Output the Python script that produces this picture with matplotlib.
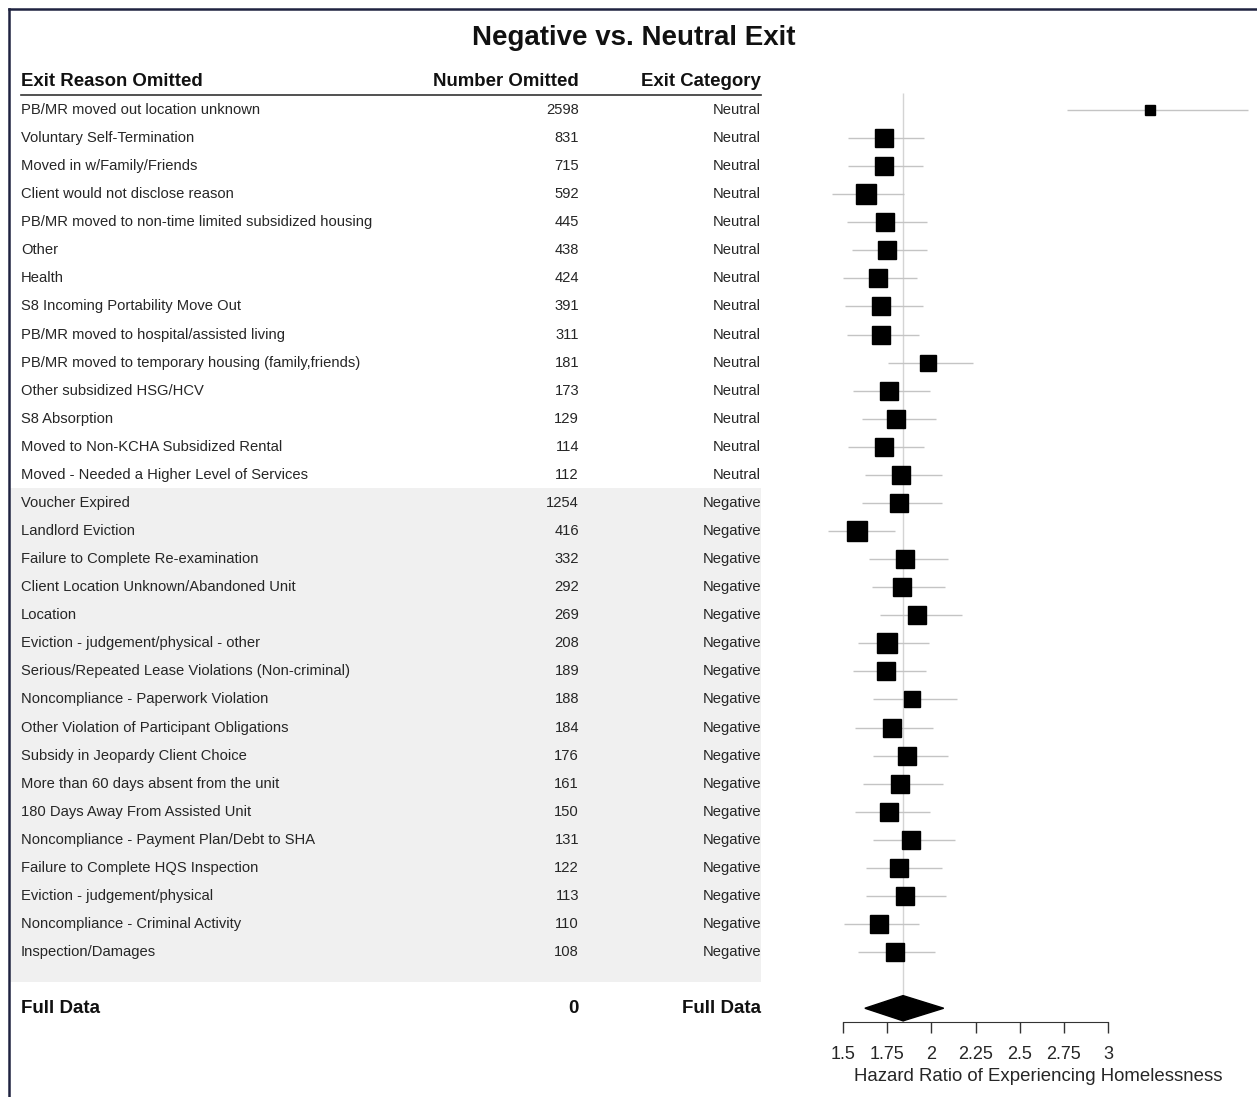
import matplotlib
matplotlib.use("Agg")
import matplotlib.pyplot as plt
from matplotlib.lines import Line2D
from matplotlib.patches import Polygon
import numpy as np

plt.rcParams['font.family'] = ['Liberation Sans', 'DejaVu Sans']

# exit reasons, counts and categories
reasons = [
    "PB/MR moved out location unknown",
    "Voluntary Self-Termination",
    "Moved in w/Family/Friends",
    "Client would not disclose reason",
    "PB/MR moved to non-time limited subsidized housing",
    "Other",
    "Health",
    "S8 Incoming Portability Move Out",
    "PB/MR moved to hospital/assisted living",
    "PB/MR moved to temporary housing (family,friends)",
    "Other subsidized HSG/HCV",
    "S8 Absorption",
    "Moved to Non-KCHA Subsidized Rental",
    "Moved - Needed a Higher Level of Services",
    "Voucher Expired",
    "Landlord Eviction",
    "Failure to Complete Re-examination",
    "Client Location Unknown/Abandoned Unit",
    "Location",
    "Eviction - judgement/physical - other",
    "Serious/Repeated Lease Violations (Non-criminal)",
    "Noncompliance - Paperwork Violation",
    "Other Violation of Participant Obligations",
    "Subsidy in Jeopardy Client Choice",
    "More than 60 days absent from the unit",
    "180 Days Away From Assisted Unit",
    "Noncompliance - Payment Plan/Debt to SHA",
    "Failure to Complete HQS Inspection",
    "Eviction - judgement/physical",
    "Noncompliance - Criminal Activity",
    "Inspection/Damages",
]
n_omitted = [2598, 831, 715, 592, 445, 438, 424, 391, 311, 181, 173, 129, 114, 112,
             1254, 416, 332, 292, 269, 208, 189, 188, 184, 176, 161, 150, 131, 122,
             113, 110, 108]
category = ["Neutral"] * 14 + ["Negative"] * 17

# hazard ratios with 95% CI
hr = [3.24, 1.73, 1.73, 1.63, 1.74, 1.75, 1.70, 1.715, 1.713, 1.98, 1.76, 1.80, 1.73, 1.826,
      1.818, 1.58, 1.85, 1.834, 1.92, 1.75, 1.743, 1.89, 1.78, 1.864, 1.823, 1.762, 1.885,
      1.818, 1.849, 1.706, 1.795]
lo = [2.77, 1.53, 1.53, 1.44, 1.52, 1.55, 1.50, 1.51, 1.52, 1.756, 1.557, 1.606, 1.526, 1.624,
      1.606, 1.417, 1.645, 1.664, 1.709, 1.587, 1.557, 1.672, 1.568, 1.672, 1.615, 1.568, 1.672,
      1.63, 1.63, 1.506, 1.587]
hi = [3.79, 1.958, 1.951, 1.845, 1.974, 1.978, 1.92, 1.951, 1.932, 2.237, 1.99, 2.029, 1.958, 2.06,
      2.06, 1.795, 2.096, 2.077, 2.171, 1.985, 1.97, 2.143, 2.011, 2.096, 2.065, 1.99, 2.133,
      2.063, 2.085, 1.932, 2.02]

full_label = "Full Data"
full_n = 0
full_hr, full_lo, full_hi = 1.84, 1.624, 2.07

xticks = [1.5, 1.75, 2, 2.25, 2.5, 2.75, 3]
xtick_labels = ["1.5", "1.75", "2", "2.25", "2.5", "2.75", "3"]

W, H = 1257, 1097
fig = plt.figure(figsize=(W / 100, H / 100), dpi=100)

rows = np.arange(len(reasons))
full_row = len(reasons) + 1
row_px0, row_step = 110, 28.07
ylim = ((H - row_px0) / row_step, -row_px0 / row_step)

ax_tab = fig.add_axes([0, 0, 820 / W, 1])
ax_tab.set_xlim(0, 820)
ax_tab.set_ylim(*ylim)
ax_tab.axis("off")

ax = fig.add_axes([820 / W, 0, 437 / W, 1], sharey=ax_tab)
px_per_unit = (1108 - 843) / 1.5
ax.set_xlim(1.5 - 23 / px_per_unit, 1.5 + 414 / px_per_unit)

txt = "#262626"

# table
ax_tab.text(634, -2.55, "Negative vs. Neutral Exit", ha="center", va="center",
            fontsize=20, fontweight="bold", color="#111111")
hdr = dict(fontsize=13.4, fontweight="bold", va="center", color="#111111")
ax_tab.text(21, -1.0, "Exit Reason Omitted", ha="left", **hdr)
ax_tab.text(579, -1.0, "Number Omitted", ha="right", **hdr)
ax_tab.text(761, -1.0, "Exit Category", ha="right", **hdr)
ax_tab.plot([21, 761], [-0.53, -0.53], color="#333333", lw=1.2)

neg = [i for i, c in enumerate(category) if c == "Negative"]
ax_tab.axhspan(neg[0] - 0.52, neg[-1] + 1.07, xmin=10 / 820, xmax=761 / 820,
               color="#f0f0f0", zorder=0, lw=0)

for i, (r, n, c) in enumerate(zip(reasons, n_omitted, category)):
    ax_tab.text(21, i, r, ha="left", va="center", fontsize=10.6, color=txt)
    ax_tab.text(579, i, str(n), ha="right", va="center", fontsize=10.6, color=txt)
    ax_tab.text(761, i, c, ha="right", va="center", fontsize=10.6, color=txt)

ax_tab.text(21, full_row, full_label, ha="left", va="center", fontsize=13.5,
            fontweight="bold", color="#111111")
ax_tab.text(579, full_row, str(full_n), ha="right", va="center", fontsize=13.5,
            fontweight="bold", color="#111111")
ax_tab.text(761, full_row, full_label, ha="right", va="center", fontsize=13.5,
            fontweight="bold", color="#111111")

# forest plot
axis_row = full_row + 0.49
ax.vlines(full_hr, -0.6, axis_row, color="#d4d4d4", lw=1, zorder=1)
ax.hlines(rows, lo, hi, color="#c4c4c4", lw=1, zorder=2)
widths = np.array(hi) - np.array(lo)
sizes = np.clip(13 * (np.median(widths) / widths) ** 0.8, 0, 14)
for i in rows:
    ax.plot(hr[i], i, marker="s", color="black", markersize=sizes[i], zorder=3, ls="none")

dh = 0.45
ax.add_patch(Polygon([(full_lo, full_row), (full_hr, full_row - dh),
                      (full_hi, full_row), (full_hr, full_row + dh)],
                     closed=True, color="black", zorder=3))

for s in ["top", "right", "left"]:
    ax.spines[s].set_visible(False)
ax.spines["bottom"].set_position(("data", axis_row))
ax.spines["bottom"].set_bounds(xticks[0], xticks[-1])
ax.spines["bottom"].set_color("#333333")
ax.set_xticks(xticks)
ax.set_xticklabels(xtick_labels, fontsize=13, color=txt)
ax.tick_params(axis="x", direction="out", length=8, width=1, color="#333333", pad=9)
ax.tick_params(axis="y", left=False, labelleft=False)
ax.set_xlabel("Hazard Ratio of Experiencing Homelessness", fontsize=13.4, labelpad=4,
              color=txt)
ax.patch.set_alpha(0)

# frame
fig.add_artist(Line2D([8.5 / W, 1], [1 - 8.5 / H, 1 - 8.5 / H], color="#1f2340", lw=1.8))
fig.add_artist(Line2D([8.5 / W, 8.5 / W], [0, 1 - 8.5 / H], color="#1f2340", lw=1.8))

fig.savefig("out.png", dpi=100)
